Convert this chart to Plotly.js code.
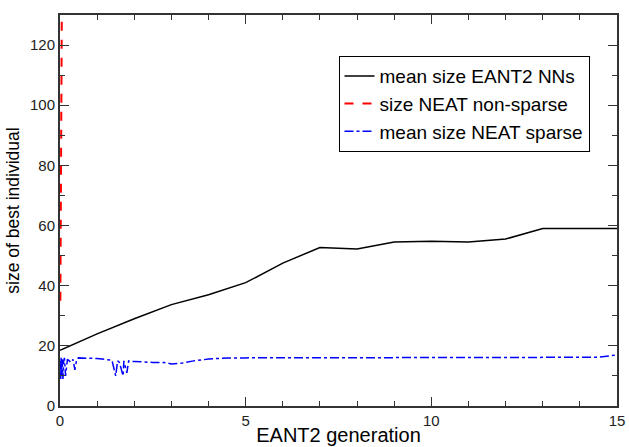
<!DOCTYPE html>
<html>
<head>
<meta charset="utf-8">
<script src="https://cdn.plot.ly/plotly-3.0.1.min.js"></script>
<style>html,body{margin:0;padding:0;background:#fff}#chart{width:629px;height:447px}</style>
</head>
<body>
<div id="chart"></div>
<script>
// mean size EANT2 NNs
var eantX = [0,1,2,3,4,5,6,7,8,9,10,11,12,13,14,15];
var eantY = [18.5,24,29,33.7,37,41,47.5,52.7,52.2,54.5,54.8,54.5,55.5,59,59,59];

// size NEAT non-sparse (compressed near x=0)
var neatX = [0.01,0.02,0.03,0.04,0.045,0.05];
var neatY = [35,60,85,105,125,135];

// mean size NEAT sparse
var sparseX = [0,0.02,0.03,0.05,0.06,0.08,0.1,0.12,0.15,0.2,0.3,0.35,0.4,0.45,0.5,0.6,0.8,1.0,1.2,1.4,1.5,1.55,1.6,1.7,1.72,1.8,1.85,1.9,2.0,2.2,2.5,2.8,3.0,3.3,3.6,4.0,4.5,5,6,7,8,9,10,11,12,13,14,14.5,15];
var sparseY = [15,9,16,10,15.5,9,15,16,10,15.5,14.5,15.5,12,15.5,16,16,15.8,15.8,15.5,15.2,10,15,14.5,10,15,11,15,14.8,14.8,14.6,14.5,14.5,14,14.3,15,15.6,16,16,16,16,16,16,16,16,16,16,16,16.2,17];

var traces = [
  {x: eantX, y: eantY, mode: 'lines', name: 'mean size EANT2 NNs',
   line: {color: '#000000', width: 1.5}},
  {x: neatX, y: neatY, mode: 'lines', name: 'size NEAT non-sparse',
   line: {color: '#ff0000', width: 2, dash: 'dash'}},
  {x: sparseX, y: sparseY, mode: 'lines', name: 'mean size NEAT sparse',
   line: {color: '#0000ff', width: 1.5, dash: 'dashdot'}}
];

var axisCommon = {
  showgrid: false, zeroline: false, showline: true, linecolor: '#333333', linewidth: 2,
  mirror: 'ticks', ticks: 'inside', ticklen: 9, tickwidth: 1, tickcolor: '#333333',
  tickfont: {family: 'Liberation Sans, Arial, sans-serif', size: 15, color: '#222'}
};

var layout = {
  width: 629, height: 447,
  margin: {l: 60, r: 12, t: 15, b: 41},
  paper_bgcolor: '#ffffff', plot_bgcolor: '#ffffff',
  showlegend: true,
  legend: {x: 0.5, y: 0.895, xanchor: 'left', yanchor: 'top',
    bgcolor: '#ffffff', bordercolor: '#000000', borderwidth: 1,
    font: {family: 'Liberation Sans, Arial, sans-serif', size: 19, color: '#000'},
    tracegroupgap: 0, itemwidth: 30},
  xaxis: Object.assign({}, axisCommon, {
    range: [0, 15], dtick: 5, tick0: 0,
    minor: {dtick: 1, ticks: 'inside', ticklen: 5, tickcolor: '#333333'},
    title: {text: 'EANT2 generation', standoff: 0,
      font: {family: 'Liberation Sans, Arial, sans-serif', size: 20, color: '#000'}}
  }),
  yaxis: Object.assign({}, axisCommon, {
    range: [0, 130], dtick: 20, tick0: 0,
    minor: {dtick: 10, ticks: 'inside', ticklen: 5, tickcolor: '#333333'},
    title: {text: 'size of best individual', standoff: 6,
      font: {family: 'Liberation Sans, Arial, sans-serif', size: 17.5, color: '#000'}}
  })
};

Plotly.newPlot('chart', traces, layout, {displayModeBar: false, staticPlot: true});
</script>
</body>
</html>
